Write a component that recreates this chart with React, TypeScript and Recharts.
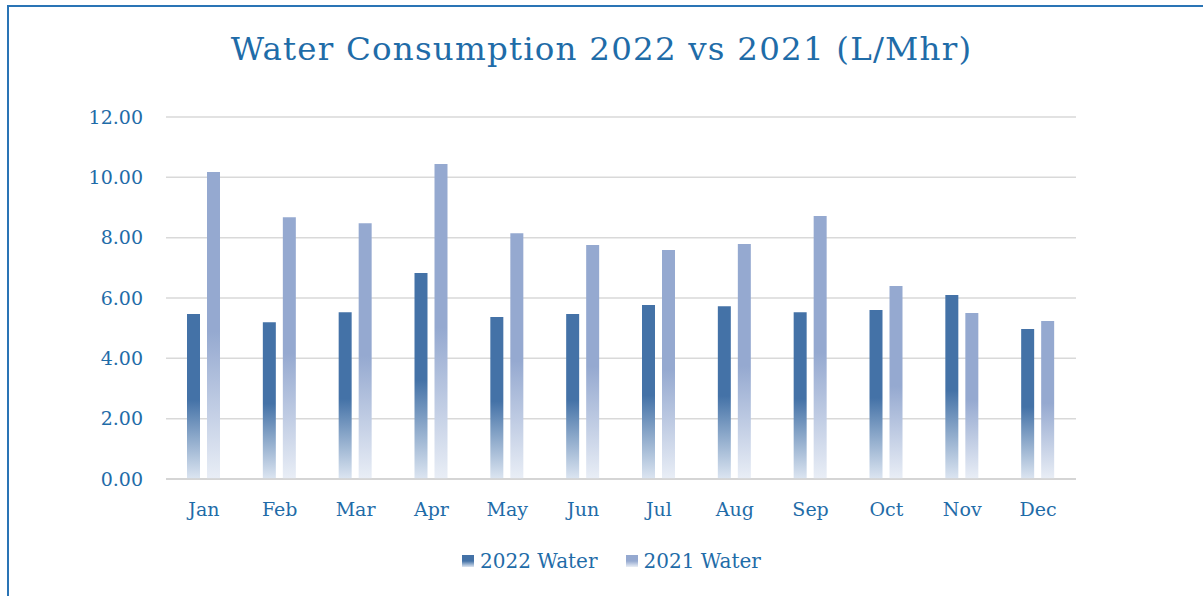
import React from 'react';
import { BarChart, Bar, XAxis, YAxis, CartesianGrid } from 'recharts';

const months = ['Jan', 'Feb', 'Mar', 'Apr', 'May', 'Jun', 'Jul', 'Aug', 'Sep', 'Oct', 'Nov', 'Dec'];
const water2022 = [5.47, 5.2, 5.53, 6.83, 5.37, 5.47, 5.77, 5.73, 5.53, 5.6, 6.1, 4.97];
const water2021 = [10.18, 8.68, 8.48, 10.44, 8.15, 7.76, 7.59, 7.79, 8.72, 6.4, 5.5, 5.24];
const yTicks = [0, 2, 4, 6, 8, 10, 12];

const data = months.map((m, i) => ({ month: m, w2022: water2022[i], w2021: water2021[i] }));

const FONT = '"DejaVu Serif", serif';
const TEXT = '#1f6ca8';

const series = [
  { key: 'w2022', name: '2022 Water', top: '#4472a7', bottom: '#dce5f1', grad: 'g2022' },
  { key: 'w2021', name: '2021 Water', top: '#95a9d0', bottom: '#e9eef6', grad: 'g2021' },
];

function LegendBox() {
  return (
    <div style={{ display: 'flex', justifyContent: 'center', gap: 28, paddingLeft: 20 }}>
      {series.map((s) => (
        <div key={s.key} style={{ display: 'flex', alignItems: 'center', gap: 6 }}>
          <svg width={12} height={12}>
            <defs>
              <linearGradient id={`lg${s.grad}`} x1="0" y1="0" x2="0" y2="1">
                <stop offset="50%" stopColor={s.top} />
                <stop offset="100%" stopColor={s.bottom} />
              </linearGradient>
            </defs>
            <rect width={12} height={12} fill={`url(#lg${s.grad})`} />
          </svg>
          <span style={{ fontFamily: FONT, fontSize: 20, color: TEXT }}>{s.name}</span>
        </div>
      ))}
    </div>
  );
}

export default function App() {
  return (
    <div style={{ position: 'absolute', left: 0, top: 0, width: 1203, height: 596, overflow: 'hidden', background: '#fff' }}>
      <div style={{ position: 'absolute', left: 7, top: 5, width: 1220, height: 620, border: '2px solid #2a74b5' }} />
      <div
        style={{
          position: 'absolute', left: 0, top: 30, width: 1203, textAlign: 'center',
          fontFamily: FONT, fontSize: 32.5, color: TEXT, letterSpacing: 1.2,
        }}
      >
        Water Consumption 2022 vs 2021 (L/Mhr)
      </div>
      <div style={{ position: 'absolute', left: 0, top: 0 }}>
        <BarChart
          width={1203}
          height={596}
          data={data}
          margin={{ top: 117, right: 127, bottom: 87, left: 60 }}
          barSize={13}
          barGap={7}
        >
          <defs>
            {series.map((s) => (
              <linearGradient key={s.grad} id={s.grad} x1="0" y1="0" x2="0" y2="1">
                <stop offset="52%" stopColor={s.top} />
                <stop offset="100%" stopColor={s.bottom} />
              </linearGradient>
            ))}
          </defs>
          <CartesianGrid vertical={false} stroke="#d9d9d9" strokeWidth={1.5} />
          <XAxis
            dataKey="month"
            height={30}
            axisLine={{ stroke: '#d0d0d0', strokeWidth: 1.5 }}
            tickLine={false}
            tickSize={0}
            tickMargin={24}
            tick={{ fill: TEXT, fontFamily: FONT, fontSize: 19 }}
          />
          <YAxis
            width={106}
            domain={[0, 12]}
            ticks={yTicks}
            axisLine={false}
            tickLine={false}
            tickSize={0}
            tickMargin={23}
            tickFormatter={(v: number) => v.toFixed(2)}
            tick={{ fill: TEXT, fontFamily: FONT, fontSize: 19 }}
          />
          {series.map((s) => (
            <Bar key={s.key} dataKey={s.key} name={s.name} fill={`url(#${s.grad})`} isAnimationActive={false} />
          ))}
        </BarChart>
      </div>
      <div style={{ position: 'absolute', left: 0, top: 549, width: 1203 }}>
        <LegendBox />
      </div>
    </div>
  );
}
